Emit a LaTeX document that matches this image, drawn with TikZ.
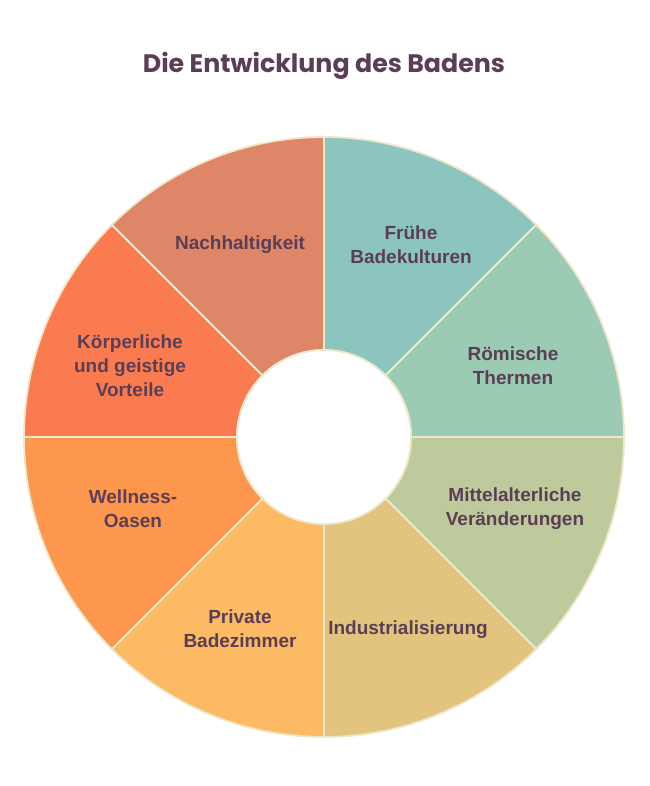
\documentclass[tikz,border=0pt]{standalone}
\usepackage{fontspec}
\setmainfont{Liberation Sans}
\newfontfamily\titlefont{Poppins}
\usetikzlibrary{positioning}

\definecolor{textcol}{HTML}{5B3E55}
\definecolor{sepcol}{HTML}{EFE7CB}
\definecolor{segA}{HTML}{8CC5BD}
\definecolor{segB}{HTML}{9CCBB3}
\definecolor{segC}{HTML}{BFCA9C}
\definecolor{segD}{HTML}{E2C47E}
\definecolor{segE}{HTML}{FBBA63}
\definecolor{segF}{HTML}{FD974D}
\definecolor{segG}{HTML}{FB7B50}
\definecolor{segH}{HTML}{DF8668}

\begin{document}
\begin{tikzpicture}
[x=1pt, y=1pt,
% STYLES
% The stage style is used for the text in each segment of the wheel
stage/.style={align=center, text=textcol, inner sep=2pt, font=\bfseries\fontsize{19}{24}\selectfont},
% The heading style is used for the title above the wheel
heading/.style={text=textcol, font=\titlefont\bfseries\fontsize{25.3}{28}\selectfont},
% The wedge style is used to draw the segments of the wheel
wedge/.style={draw=sepcol, line width=1.8pt, line join=round}]

\useasboundingbox[fill=white] (-324,-349) rectangle (325,437);

% Draw segments
\foreach \col [count=\i from 0] in {segA,segB,segC,segD,segE,segF,segG,segH} {
  \pgfmathsetmacro{\sa}{90-45*\i}
  \pgfmathsetmacro{\ea}{90-45*(\i+1)}
  \filldraw[wedge, fill=\col] (\sa:87) -- (\sa:300) arc[start angle=\sa, end angle=\ea, radius=300]
    -- (\ea:87) arc[start angle=\ea, end angle=\sa, radius=87] -- cycle;
}

% Hub
\node[circle, draw=sepcol, line width=1.8pt, fill=white, minimum size=174pt, inner sep=0pt] (hub) at (0,0) {};

% Title
\node[heading] (title) at (0,371) {Die Entwicklung des Badens};

%%%%%%%%%%%%%%%
% Stages

% Frühe Badekulturen
\node[stage] (fruehe) at (87,192) {Frühe\\Badekulturen};

% Römische Thermen
\node[stage] (roem) at (189,71) {Römische\\Thermen};

% Mittelalter
\node[stage] (mittel) at (191,-72) {Mittelalterliche\\Veränderungen};

% Industrialisierung
\node[stage] (indust) at (84,-193) {Industrialisierung};

% Private Badezimmer
\node[stage] (privat) at (-84,-192) {Private\\Badezimmer};

% Wellness
\node[stage] (wellness) at (-191,-72) {Wellness-\\Oasen};

% Körperliche Vorteile
\node[stage] (koerper) at (-194,71) {Körperliche\\und geistige\\Vorteile};

% Nachhaltigkeit
\node[stage] (nachhalt) at (-84,192) {Nachhaltigkeit};

\end{tikzpicture}
\end{document}
